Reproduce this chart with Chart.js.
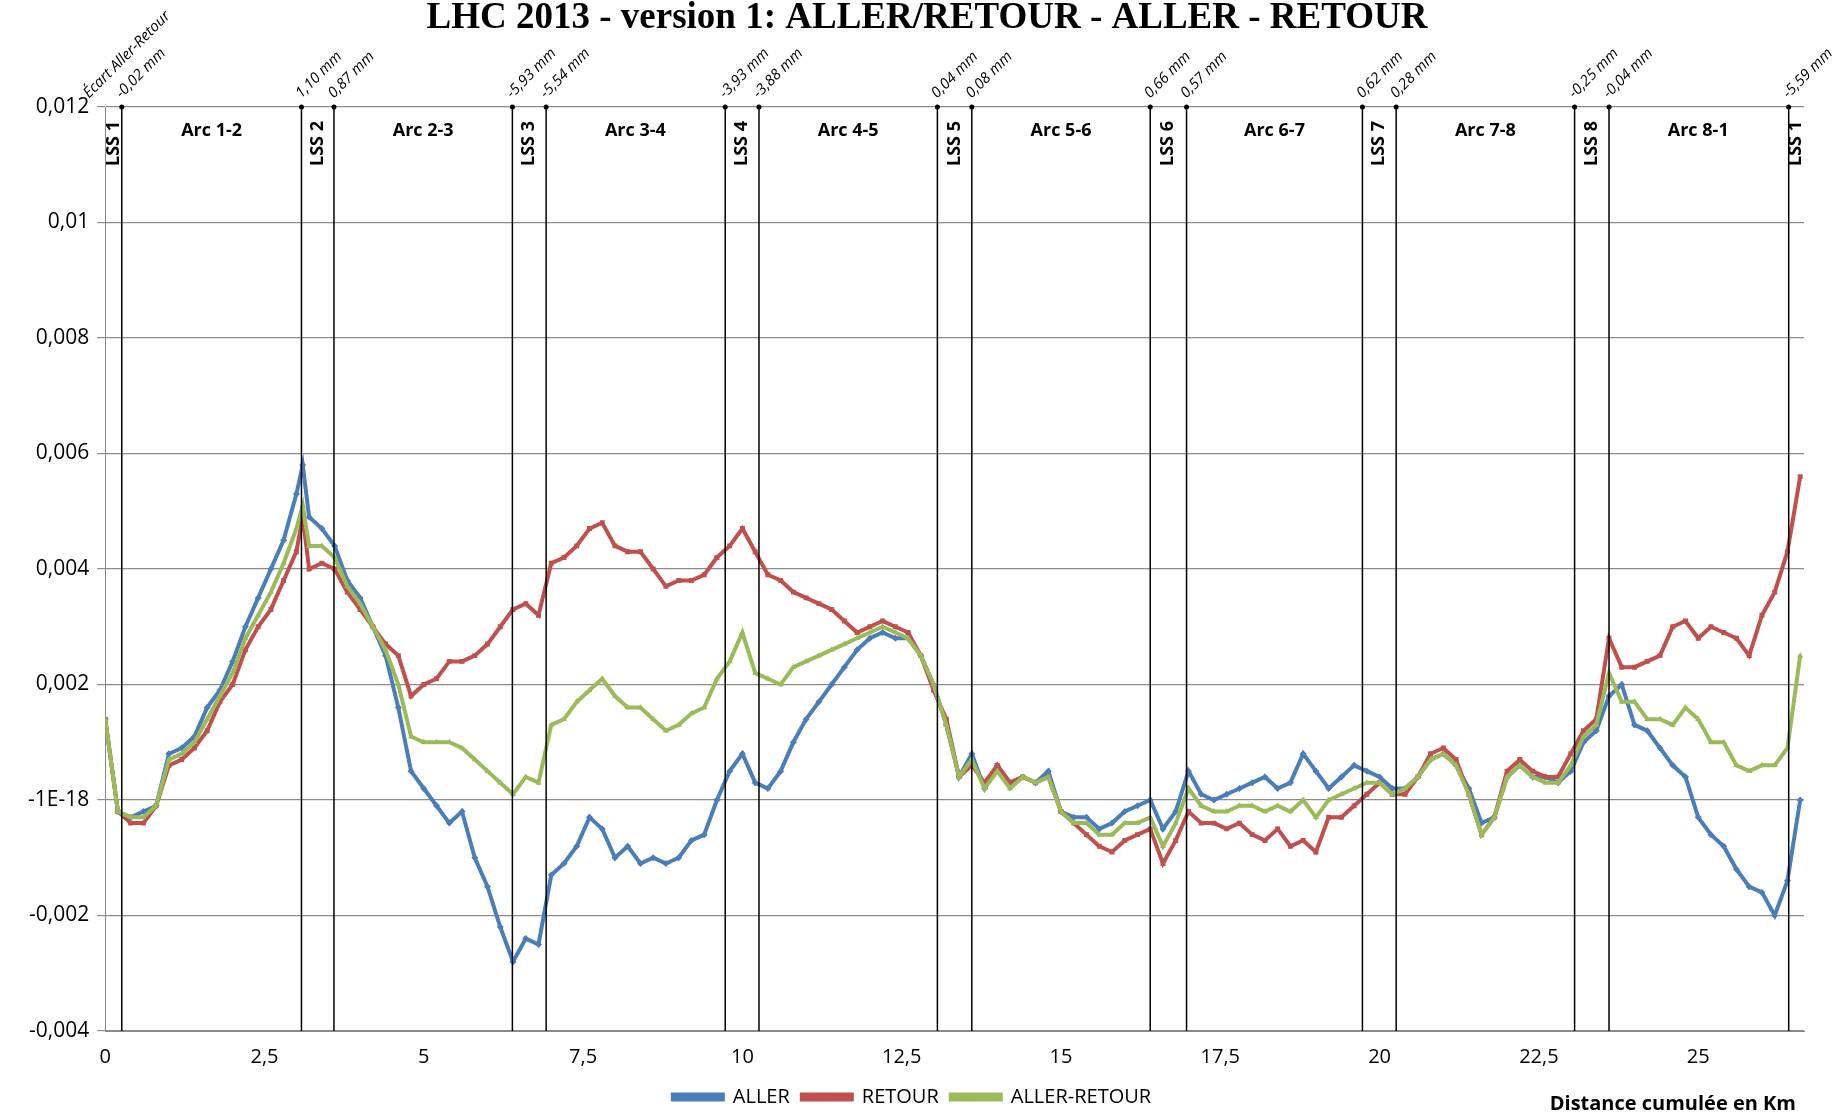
<!DOCTYPE html>
<html>
<head>
<meta charset="utf-8">
<script src="https://cdn.jsdelivr.net/npm/chart.js@4.4.0/dist/chart.umd.min.js"></script>
<style>
  html, body { margin: 0; padding: 0; background: #fff; }
  #wrap { width: 1840px; height: 1119px; }
</style>
</head>
<body>
<div id="wrap"><canvas id="chart"></canvas></div>
<script>
// distances (km) and values in mm (scaled to metres on the axis)
const distKm = [0,0.2,0.4,0.6,0.8,1.0,1.2,1.4,1.6,1.8,2.0,2.2,2.4,2.6,2.8,3.0,3.1,
  3.2,3.4,3.6,3.8,4.0,4.2,4.4,4.6,4.8,5.0,5.2,5.4,5.6,5.8,6.0,6.2,6.4,6.6,6.8,
  7.0,7.2,7.4,7.6,7.8,8.0,8.2,8.4,8.6,8.8,9.0,9.2,9.4,9.6,9.8,10.0,10.2,10.4,10.6,10.8,
  11.0,11.2,11.4,11.6,11.8,12.0,12.2,12.4,12.6,12.8,13.0,13.2,13.4,13.6,13.8,
  14.0,14.2,14.4,14.6,14.8,15.0,15.2,15.4,15.6,15.8,16.0,16.2,16.4,16.6,16.8,
  17.0,17.2,17.4,17.6,17.8,18.0,18.2,18.4,18.6,18.8,19.0,19.2,19.4,19.6,19.8,
  20.0,20.2,20.4,20.6,20.8,21.0,21.2,21.4,21.6,21.8,22.0,22.2,22.4,22.6,22.8,
  23.0,23.2,23.4,23.6,23.8,24.0,24.2,24.4,24.6,24.8,25.0,25.2,25.4,25.6,25.8,
  26.0,26.2,26.4,26.6];

const allerMm = [1.4,-0.2,-0.3,-0.2,-0.1,0.8,0.9,1.1,1.6,1.9,2.4,3.0,3.5,4.0,4.5,5.3,5.8,
  4.9,4.7,4.4,3.8,3.5,3.0,2.5,1.6,0.5,0.2,-0.1,-0.4,-0.2,-1.0,-1.5,-2.2,-2.8,-2.4,-2.5,
  -1.3,-1.1,-0.8,-0.3,-0.5,-1.0,-0.8,-1.1,-1.0,-1.1,-1.0,-0.7,-0.6,0.0,0.5,0.8,0.3,0.2,0.5,1.0,
  1.4,1.7,2.0,2.3,2.6,2.8,2.9,2.8,2.8,2.5,2.0,1.3,0.4,0.8,0.2,
  0.6,0.3,0.4,0.3,0.5,-0.2,-0.3,-0.3,-0.5,-0.4,-0.2,-0.1,0.0,-0.5,-0.2,
  0.5,0.1,0.0,0.1,0.2,0.3,0.4,0.2,0.3,0.8,0.5,0.2,0.4,0.6,0.5,
  0.4,0.2,0.2,0.4,0.7,0.8,0.6,0.2,-0.4,-0.3,0.4,0.6,0.4,0.4,0.3,
  0.5,1.0,1.2,1.8,2.0,1.3,1.2,0.9,0.6,0.4,-0.3,-0.6,-0.8,-1.2,-1.5,
  -1.6,-2.0,-1.4,0.0];

const retourMm = [1.4,-0.2,-0.4,-0.4,-0.1,0.6,0.7,0.9,1.2,1.7,2.0,2.6,3.0,3.3,3.8,4.3,4.9,
  4.0,4.1,4.0,3.6,3.3,3.0,2.7,2.5,1.8,2.0,2.1,2.4,2.4,2.5,2.7,3.0,3.3,3.4,3.2,
  4.1,4.2,4.4,4.7,4.8,4.4,4.3,4.3,4.0,3.7,3.8,3.8,3.9,4.2,4.4,4.7,4.3,3.9,3.8,3.6,
  3.5,3.4,3.3,3.1,2.9,3.0,3.1,3.0,2.9,2.5,1.9,1.4,0.4,0.6,0.3,
  0.6,0.3,0.4,0.3,0.4,-0.2,-0.4,-0.6,-0.8,-0.9,-0.7,-0.6,-0.5,-1.1,-0.7,
  -0.2,-0.4,-0.4,-0.5,-0.4,-0.6,-0.7,-0.5,-0.8,-0.7,-0.9,-0.3,-0.3,-0.1,0.1,
  0.3,0.1,0.1,0.4,0.8,0.9,0.7,0.1,-0.6,-0.3,0.5,0.7,0.5,0.4,0.4,
  0.8,1.2,1.4,2.8,2.3,2.3,2.4,2.5,3.0,3.1,2.8,3.0,2.9,2.8,2.5,
  3.2,3.6,4.3,5.6];

const allerRetourMm = [1.4,-0.2,-0.3,-0.3,-0.1,0.7,0.8,1.0,1.4,1.8,2.2,2.8,3.2,3.6,4.1,4.7,5.1,
  4.4,4.4,4.2,3.7,3.4,3.0,2.6,2.0,1.1,1.0,1.0,1.0,0.9,0.7,0.5,0.3,0.1,0.4,0.3,
  1.3,1.4,1.7,1.9,2.1,1.8,1.6,1.6,1.4,1.2,1.3,1.5,1.6,2.1,2.4,2.9,2.2,2.1,2.0,2.3,
  2.4,2.5,2.6,2.7,2.8,2.9,3.0,2.9,2.8,2.5,2.0,1.3,0.4,0.7,0.2,
  0.5,0.2,0.4,0.3,0.4,-0.2,-0.4,-0.4,-0.6,-0.6,-0.4,-0.4,-0.3,-0.8,-0.4,
  0.2,-0.1,-0.2,-0.2,-0.1,-0.1,-0.2,-0.1,-0.2,0.0,-0.3,0.0,0.1,0.2,0.3,
  0.3,0.1,0.2,0.4,0.7,0.8,0.6,0.1,-0.6,-0.3,0.4,0.6,0.4,0.3,0.3,
  0.6,1.1,1.3,2.2,1.7,1.7,1.4,1.4,1.3,1.6,1.4,1.0,1.0,0.6,0.5,
  0.6,0.6,0.9,2.5];

// section boundaries and the "écart" read at each one
const boundaryKm = [0.26,3.08,3.59,6.39,6.92,9.73,10.26,13.06,13.60,16.40,16.97,19.73,20.26,23.06,23.60,26.42];
const ecartLabels = ["-0,02 mm","1,10 mm","0,87 mm","-5,93 mm","-5,54 mm","-3,93 mm","-3,88 mm","0,04 mm",
  "0,08 mm","0,66 mm","0,57 mm","0,62 mm","0,28 mm","-0,25 mm","-0,04 mm","-5,59 mm"];
const lssLabels = ["LSS 1","LSS 2","LSS 3","LSS 4","LSS 5","LSS 6","LSS 7","LSS 8","LSS 1"];
const lssKm = [0.13,3.33,6.65,9.99,13.33,16.68,19.99,23.33,26.53];
const arcLabels = ["Arc 1-2","Arc 2-3","Arc 3-4","Arc 4-5","Arc 5-6","Arc 6-7","Arc 7-8","Arc 8-1"];
const arcKm = [1.67,4.99,8.32,11.66,15.0,18.35,21.66,25.0];

const BLUE = "#4a7ebb", RED = "#c0504d", GREEN = "#9bbb59";
const toPts = (arr) => arr.map((v, i) => ({ x: distKm[i], y: v / 1000 }));
const fmtNum = (v) => {
  const r = Math.round(v * 1000) / 1000;
  if (r === 0) return "-1E-18";
  return String(r).replace(".", ",");
};

const sectionsPlugin = {
  id: "sections",
  afterDatasetsDraw(chart) {
    const { ctx, chartArea, scales } = chart;
    const xs = scales.x;
    ctx.save();
    // boundary lines
    ctx.strokeStyle = "#000";
    ctx.lineWidth = 1.5;
    boundaryKm.forEach((k, i) => {
      const px = xs.getPixelForValue(k);
      ctx.beginPath();
      ctx.moveTo(px, chartArea.top);
      ctx.lineTo(px, chartArea.bottom);
      ctx.stroke();
      ctx.beginPath();
      ctx.arc(px, chartArea.top, 2.5, 0, Math.PI * 2);
      ctx.fillStyle = "#000";
      ctx.fill();
      ctx.save();
      ctx.translate(px + 2, chartArea.top - 6);
      ctx.rotate(-Math.PI / 4);
      ctx.font = "italic 15px 'Open Sans', sans-serif";
      ctx.textAlign = "left";
      ctx.textBaseline = "bottom";
      ctx.fillText(ecartLabels[i], 0, 0);
      ctx.restore();
    });
    // "Écart Aller-Retour" label near origin
    ctx.save();
    ctx.translate(xs.getPixelForValue(0) - 14, chartArea.top - 6);
    ctx.rotate(-Math.PI / 4);
    ctx.font = "italic 15px 'Open Sans', sans-serif";
    ctx.textAlign = "left";
    ctx.textBaseline = "bottom";
    ctx.fillText("Écart Aller-Retour", 0, 0);
    ctx.restore();
    // LSS labels (vertical)
    ctx.font = "bold 18px 'Open Sans', sans-serif";
    lssLabels.forEach((t, i) => {
      ctx.save();
      ctx.translate(xs.getPixelForValue(lssKm[i]), chartArea.top + 14);
      ctx.rotate(-Math.PI / 2);
      ctx.textAlign = "right";
      ctx.textBaseline = "middle";
      ctx.fillText(t, 0, 0);
      ctx.restore();
    });
    // arc labels
    ctx.textAlign = "center";
    ctx.textBaseline = "middle";
    arcLabels.forEach((t, i) => {
      ctx.fillText(t, xs.getPixelForValue(arcKm[i]), chartArea.top + 24);
    });
    // title
    ctx.font = "bold 37px 'Liberation Serif', serif";
    ctx.fillText("LHC 2013 - version 1: ALLER/RETOUR - ALLER - RETOUR", 927, 18);
    // x axis title
    ctx.font = "bold 20px 'Open Sans', sans-serif";
    ctx.textAlign = "right";
    ctx.fillText("Distance cumulée en Km", chartArea.right - 8, 1104);
    ctx.restore();
  }
};

const mkSet = (label, data, color, style, order) => ({
  label, data: toPts(data), showLine: true,
  borderColor: color, backgroundColor: color, borderWidth: 4,
  pointStyle: style, pointRadius: 3.5, pointBorderWidth: 0, order
});

new Chart(document.getElementById("chart"), {
  type: "scatter",
  data: {
    datasets: [
      mkSet("ALLER", allerMm, BLUE, "rectRot", 3),
      mkSet("RETOUR", retourMm, RED, "rect", 2),
      mkSet("ALLER-RETOUR", allerRetourMm, GREEN, "triangle", 1)
    ]
  },
  options: {
    responsive: true, maintainAspectRatio: false, animation: false,
    layout: { padding: { top: 107, right: 36, left: 20, bottom: 2 } },
    plugins: {
      tooltip: { enabled: false },
      legend: {
        position: "bottom",
        labels: {
          boxWidth: 50, boxHeight: 5, color: "#000",
          font: { size: 20, family: "'Open Sans', sans-serif" }, padding: 12,
          sort: (a, b) => a.datasetIndex - b.datasetIndex
        }
      }
    },
    scales: {
      x: {
        type: "linear", min: 0, max: 26.66,
        grid: { display: false },
        border: { color: "#888" },
        ticks: {
          stepSize: 2.5, color: "#000", font: { size: 20, family: "'Open Sans', sans-serif" },
          callback: (v) => String(v).replace(".", ","),
          padding: 6
        },
        afterBuildTicks: (ax) => { ax.ticks = ax.ticks.filter(t => t.value % 2.5 === 0); }
      },
      y: {
        min: -0.004, max: 0.012,
        grid: { color: "#8c8c8c", lineWidth: 1.2 },
        border: { color: "#888" },
        ticks: {
          stepSize: 0.002, color: "#000", font: { size: 21, family: "'Open Sans', sans-serif" },
          callback: fmtNum, padding: 8
        }
      }
    }
  },
  plugins: [sectionsPlugin]
});
</script>
</body>
</html>
